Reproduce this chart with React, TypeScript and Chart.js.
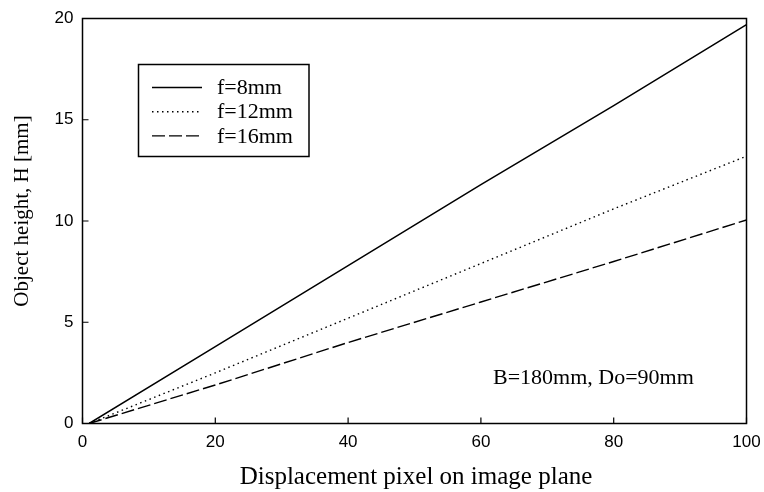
import React, { useEffect, useRef } from "react";
import { Chart, registerables } from "chart.js";

Chart.register(...registerables);

const xValues = [1, 20, 40, 60, 80, 100];
const f8 = [0, 3.8, 7.8, 11.8, 15.7, 19.7];
const f12 = [0, 2.5, 5.2, 7.9, 10.6, 13.2];
const f16 = [0, 1.9, 4.0, 6.0, 8.0, 10.05];
const seriesLabels = ["f=8mm", "f=12mm", "f=16mm"];
const xTitle = "Displacement pixel on image plane";
const yTitle = "Object height, H [mm]";
const noteText = "B=180mm, Do=90mm";

const SERIF = '"Liberation Serif", "Times New Roman", serif';
const SANS = '"Liberation Sans", Arial, sans-serif';

const dashes: number[][] = [[], [1.5, 3.5], [13, 4]];
const widths = [1.5, 1.4, 1.4];

const decorPlugin = {
  id: "decor",
  afterDraw(chart: any) {
    const { ctx, chartArea } = chart;
    const { left, right, top, bottom } = chartArea;
    ctx.save();
    ctx.strokeStyle = "#000";
    ctx.lineWidth = 1.5;
    ctx.strokeRect(left, top, right - left, bottom - top);
    const xs = chart.scales.x;
    const ys = chart.scales.y;
    ctx.lineWidth = 1.2;
    ctx.beginPath();
    xs.ticks.forEach((t: any) => {
      const px = xs.getPixelForValue(t.value);
      ctx.moveTo(px, bottom);
      ctx.lineTo(px, bottom - 6);
    });
    ys.ticks.forEach((t: any) => {
      const py = ys.getPixelForValue(t.value);
      ctx.moveTo(left, py);
      ctx.lineTo(left + 6, py);
    });
    ctx.stroke();

    ctx.lineWidth = 1.5;
    ctx.strokeRect(138.5, 64.5, 170.5, 92);
    ctx.font = `22px ${SERIF}`;
    ctx.fillStyle = "#000";
    ctx.textBaseline = "middle";
    ctx.textAlign = "left";
    seriesLabels.forEach((lab, i) => {
      const y = 87.5 + i * 24.2;
      ctx.save();
      ctx.lineWidth = widths[i];
      ctx.setLineDash(dashes[i]);
      ctx.beginPath();
      ctx.moveTo(152, y);
      ctx.lineTo(202, y);
      ctx.stroke();
      ctx.restore();
      ctx.fillText(lab, 217, y + 1);
    });

    ctx.font = `22px ${SERIF}`;
    ctx.fillText(noteText, 493, 378);

    ctx.font = `25px ${SERIF}`;
    ctx.textAlign = "center";
    ctx.fillText(xTitle, 416, 477);
    ctx.save();
    ctx.translate(22, 211);
    ctx.rotate(-Math.PI / 2);
    ctx.font = `21px ${SERIF}`;
    ctx.fillText(yTitle, 0, 0);
    ctx.restore();
    ctx.restore();
  },
};

export default function App() {
  const ref = useRef<HTMLCanvasElement | null>(null);
  useEffect(() => {
    if (!ref.current) return;
    const mk = (vals: number[]) => xValues.map((x, i) => ({ x, y: vals[i] }));
    const all = [f8, f12, f16];
    const chart = new Chart(ref.current, {
      type: "line",
      data: {
        datasets: all.map((vals, i) => ({
          label: seriesLabels[i],
          data: mk(vals),
          borderColor: "#000",
          borderWidth: widths[i],
          borderDash: dashes[i],
          pointRadius: 0,
          tension: 0,
          fill: false,
        })),
      },
      options: {
        animation: false,
        responsive: true,
        maintainAspectRatio: false,
        layout: { padding: { top: 18.5, right: 17.5, left: 0, bottom: 0 } },
        plugins: { legend: { display: false }, tooltip: { enabled: false } },
        scales: {
          x: {
            type: "linear",
            min: 0,
            max: 100,
            grid: { display: false, drawTicks: false },
            border: { display: false },
            ticks: { stepSize: 20, color: "#000", font: { family: SANS, size: 17 }, padding: 9, maxRotation: 0 },
            afterFit: (s: any) => { s.height = 68.5; s.paddingRight = 0; s.paddingLeft = 0; },
          },
          y: {
            type: "linear",
            min: 0,
            max: 20,
            grid: { display: false, drawTicks: false },
            border: { display: false },
            ticks: { stepSize: 5, color: "#000", font: { family: SANS, size: 17 }, padding: 9 },
            afterFit: (s: any) => { s.width = 82.5; s.paddingTop = 0; s.paddingBottom = 0; },
          },
        },
      },
      plugins: [decorPlugin],
    });
    return () => chart.destroy();
  }, []);
  return (
    <div style={{ position: "fixed", left: 0, top: 0, width: 764, height: 492, background: "#fff" }}>
      <canvas ref={ref} />
    </div>
  );
}
